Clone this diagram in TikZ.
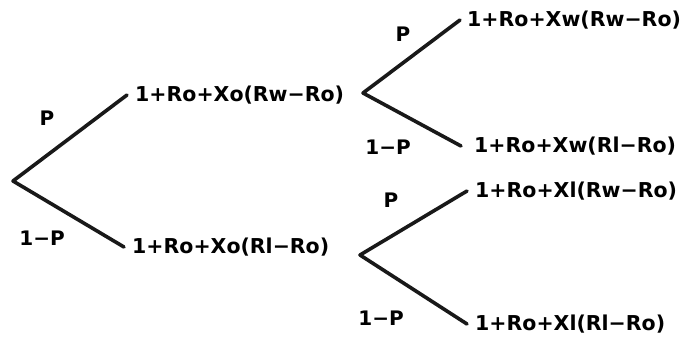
\documentclass[tikz,border=0pt]{standalone}
\usepackage{fontspec}
\setmainfont{DejaVu Sans}
\begin{document}
\begin{tikzpicture}[x=1pt,y=-1pt,
  branch/.style={line width=3.6pt,line cap=round,line join=round,draw=black!90},
  leaf/.style={anchor=west,inner xsep=8pt,inner ysep=0pt,font=\fontsize{20.5}{22}\selectfont\bfseries},
  prob/.style={inner sep=0pt,font=\fontsize{20}{22}\selectfont\bfseries}]
\useasboundingbox (0,0) rectangle (686,338);
% vertices
\coordinate (root) at (13,181);
\coordinate (v1) at (363,93);
\coordinate (v2) at (360,255);
% leaves
\node[leaf] (a) at (127,95) {1+Ro+Xo(Rw−Ro)};
\node[leaf] (b) at (124,247) {1+Ro+Xo(Rl−Ro)};
\node[leaf,inner xsep=7pt] (c) at (460,20) {1+Ro+Xw(Rw−Ro)};
\node[leaf,inner xsep=13pt] (d) at (461,146) {1+Ro+Xw(Rl−Ro)};
\node[leaf] (e) at (467,191) {1+Ro+Xl(Rw−Ro)};
\node[leaf] (f) at (467,324) {1+Ro+Xl(Rl−Ro)};
% branches
\draw[branch] (a.west) -- (root) -- (b.west);
\draw[branch] (c.west) -- (v1) -- (d.west);
\draw[branch] (e.west) -- (v2) -- (f.west);
% probabilities
\node[prob] (p1) at (47,118) {P};
\node[prob] (q1) at (42,238) {1−P};
\node[prob] (p2) at (403,34) {P};
\node[prob] (q2) at (388,147) {1−P};
\node[prob] (p3) at (391,200) {P};
\node[prob] (q3) at (381,318) {1−P};
\end{tikzpicture}
\end{document}
